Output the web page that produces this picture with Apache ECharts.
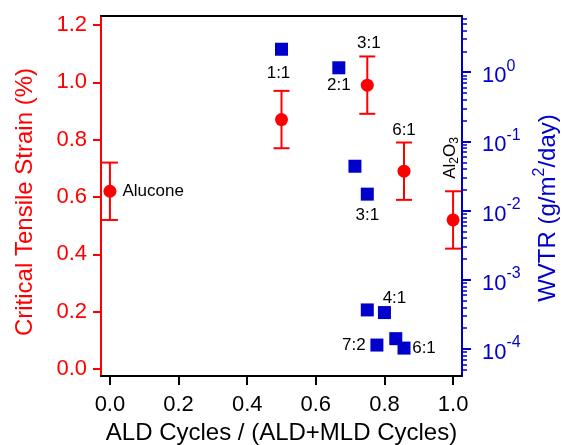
<!DOCTYPE html>
<html>
<head>
<meta charset="utf-8">
<script src="https://cdn.jsdelivr.net/npm/echarts@6/dist/echarts.min.js"></script>
<style>
  html, body { margin: 0; padding: 0; background: #fff; }
  #chart { width: 563px; height: 445px; }
</style>
</head>
<body>
<div id="chart"></div>
<script>
// Critical tensile strain (left axis, linear) vs ALD fraction
const strainX = [0, 0.5, 0.75, 0.857, 1.0];
const strainY = [0.62, 0.87, 0.99, 0.69, 0.52];
const strainErr = [0.10, 0.10, 0.10, 0.10, 0.10];
const strainLabels = ['Alucone', '', '3:1', '6:1', 'Al{sub|2}O{sub|3}'];

// Water vapour transmission rate (right axis, log) vs ALD fraction
const wvtrX = [0.5, 0.667, 0.714, 0.75, 0.75, 0.8, 0.778, 0.833, 0.857];
const wvtrY = [2.15, 1.16, 0.0438, 0.0173, 3.67e-4, 3.36e-4, 1.14e-4, 1.41e-4, 1.03e-4];
const wvtrLabels = ['1:1', '2:1', '', '3:1', '', '4:1', '7:2', '', '6:1'];

// Tick values
const xTicks = [0, 0.2, 0.4, 0.6, 0.8, 1.0];
const strainTicks = [0, 0.2, 0.4, 0.6, 0.8, 1.0, 1.2];
const wvtrTicks = [1e-4, 1e-3, 1e-2, 1e-1, 1];

const RED = '#ff0000';
const BLUE = '#0000cc';
const FONT = '"Liberation Sans", Arial, sans-serif';

const X_MIN = -0.026, X_MAX = 1.026;
const S_MIN = -0.024, S_MAX = 1.231;
const W_MIN = 4.07e-5, W_MAX = 6.5;

// minor log ticks: 2..9 within each decade
const wvtrMinor = [];
for (let e = -5; e <= 0; e++) {
  for (let k = 2; k <= 9; k++) {
    const v = k * Math.pow(10, e);
    if (v > W_MIN && v < W_MAX) wvtrMinor.push(v);
  }
}

// label placement (offset from the mark centre, in px)
const strainLabelStyle = [
  { position: 'right', distance: 6 },
  null,
  { position: 'inside', offset: [1.5, -42] },
  { position: 'inside', offset: [0, -41] },
  // rotated label: offset is given in the rotated frame
  { position: 'inside', offset: [62, -3], rotate: 90 }
];
const wvtrLabelStyle = [
  { offset: [-3, 24] },
  { offset: [0, 17.5] },
  null,
  { offset: [0, 21] },
  null,
  { offset: [10, -14] },
  { offset: [-23, 0] },
  null,
  { offset: [20, 0] }
];

const annotFont = { fontFamily: FONT, fontSize: 17, color: '#000' };

const strainPoints = strainX.map((x, i) => {
  const item = { value: [x, strainY[i]] };
  const st = strainLabelStyle[i];
  if (st && strainLabels[i]) {
    item.label = Object.assign({
      show: true,
      formatter: strainLabels[i],
      rich: { sub: { fontFamily: FONT, fontSize: 12, lineHeight: 12, verticalAlign: 'bottom', color: '#000' } },
      lineHeight: 22
    }, annotFont, st);
  }
  return item;
});

const wvtrPoints = wvtrX.map((x, i) => {
  const item = { value: [x, wvtrY[i]] };
  const st = wvtrLabelStyle[i];
  if (st && wvtrLabels[i]) {
    item.label = Object.assign({ show: true, position: 'inside', formatter: wvtrLabels[i] }, annotFont, st);
  }
  return item;
});

const errData = strainX.map((x, i) => [x, strainY[i], strainErr[i]]);

const chart = echarts.init(document.getElementById('chart'), null, { renderer: 'canvas' });

chart.setOption({
  animation: false,
  backgroundColor: '#fff',
  grid: { left: 101, right: 101, top: 16, bottom: 69, containLabel: false, outerBoundsMode: 'none' },
  xAxis: [
    {
      type: 'value', min: X_MIN, max: X_MAX, position: 'bottom',
      axisLine: { show: true, onZero: false, lineStyle: { color: '#000', width: 2 } },
      axisTick: { show: true, length: 9, lineStyle: { color: '#000', width: 2 }, customValues: xTicks },
      axisLabel: { customValues: xTicks, formatter: v => v.toFixed(1), fontFamily: FONT, fontSize: 22, color: '#000', margin: 18 },
      splitLine: { show: false },
      name: 'ALD Cycles / (ALD+MLD Cycles)', nameLocation: 'middle', nameGap: 44,
      nameTextStyle: { fontFamily: FONT, fontSize: 24, color: '#000' }
    },
    {
      type: 'value', min: X_MIN, max: X_MAX, position: 'top',
      axisLine: { show: true, onZero: false, lineStyle: { color: '#000', width: 2 } },
      axisTick: { show: false }, axisLabel: { show: false }, splitLine: { show: false }
    }
  ],
  yAxis: [
    {
      type: 'value', min: S_MIN, max: S_MAX, position: 'left',
      axisLine: { show: true, onZero: false, lineStyle: { color: RED, width: 2 } },
      axisTick: { show: true, length: 8, lineStyle: { color: RED, width: 2 }, customValues: strainTicks },
      axisLabel: { customValues: strainTicks, formatter: v => v.toFixed(1), fontFamily: FONT, fontSize: 22, color: RED, margin: 14 },
      splitLine: { show: false },
      name: 'Critical Tensile Strain (%)', nameLocation: 'middle', nameGap: 64,
      nameTextStyle: { fontFamily: FONT, fontSize: 24, color: RED, padding: [0, 12, 0, 0] }
    },
    {
      type: 'log', logBase: 10, min: W_MIN, max: W_MAX, position: 'right',
      axisLine: { show: true, onZero: false, lineStyle: { color: BLUE, width: 2 } },
      axisTick: { show: true, length: 9, lineStyle: { color: BLUE, width: 2 }, customValues: wvtrTicks },
      axisLabel: {
        customValues: wvtrTicks, margin: 20,
        formatter: v => '{b|10}{s|' + Math.round(Math.log10(v)) + '}',
        padding: [8, 0, 0, 0],
        rich: {
          b: { fontFamily: FONT, fontSize: 22, color: BLUE, lineHeight: 36 },
          s: { fontFamily: FONT, fontSize: 16, color: BLUE, lineHeight: 16, verticalAlign: 'top' }
        }
      },
      splitLine: { show: false },
      name: 'WVTR (g/m{s|2}/day)', nameLocation: 'middle', nameGap: 68,
      nameTextStyle: {
        fontFamily: FONT, fontSize: 24, color: BLUE, lineHeight: 34, padding: [0, 24, 0, 0],
        rich: { s: { fontFamily: FONT, fontSize: 16, color: BLUE, lineHeight: 16, verticalAlign: 'top' } }
      }
    },
    {
      type: 'log', logBase: 10, min: W_MIN, max: W_MAX, position: 'right', offset: 0,
      axisLine: { show: false, onZero: false },
      axisTick: { show: true, length: 5, lineStyle: { color: BLUE, width: 1.5 }, customValues: wvtrMinor },
      axisLabel: { show: false }, splitLine: { show: false }
    }
  ],
  series: [
    {
      type: 'custom', xAxisIndex: 0, yAxisIndex: 0, z: 2,
      data: errData,
      renderItem: (params, api) => {
        const x = api.value(0), y = api.value(1), e = api.value(2);
        const top = api.coord([x, y + e]);
        const bot = api.coord([x, y - e]);
        const half = 8;
        const style = { stroke: RED, lineWidth: 2 };
        return {
          type: 'group',
          children: [
            { type: 'line', shape: { x1: top[0], y1: top[1], x2: bot[0], y2: bot[1] }, style },
            { type: 'line', shape: { x1: top[0] - half, y1: top[1], x2: top[0] + half, y2: top[1] }, style },
            { type: 'line', shape: { x1: bot[0] - half, y1: bot[1], x2: bot[0] + half, y2: bot[1] }, style }
          ]
        };
      }
    },
    {
      type: 'scatter', xAxisIndex: 0, yAxisIndex: 0, z: 3,
      symbol: 'circle', symbolSize: 13,
      itemStyle: { color: RED, opacity: 1 },
      data: strainPoints
    },
    {
      type: 'scatter', xAxisIndex: 0, yAxisIndex: 1, z: 3,
      symbol: 'rect', symbolSize: 13,
      itemStyle: { color: BLUE, opacity: 1 },
      data: wvtrPoints
    }
  ]
});
</script>
</body>
</html>
